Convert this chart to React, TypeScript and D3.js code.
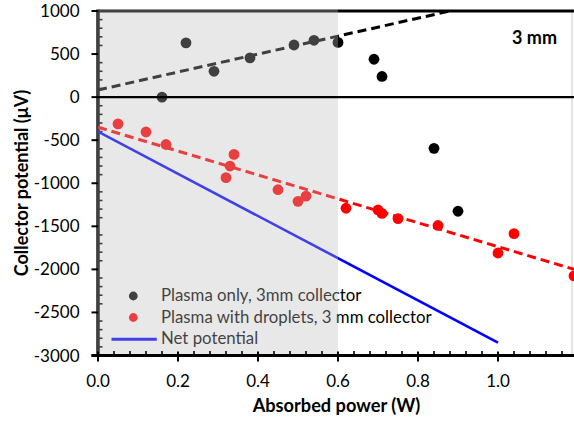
import React from "react";
import * as d3 from "d3";

const plasmaX = [0.16, 0.22, 0.29, 0.38, 0.49, 0.54, 0.6, 0.69, 0.71, 0.84, 0.9];
const plasmaY = [0, 630, 300, 455, 605, 660, 635, 440, 240, -595, -1325];

const dropX = [0.05, 0.12, 0.17, 0.32, 0.33, 0.34, 0.45, 0.5, 0.52, 0.62, 0.7, 0.71, 0.75, 0.85, 1.0, 1.04, 1.19];
const dropY = [-310, -405, -550, -935, -800, -665, -1075, -1210, -1150, -1290, -1310, -1350, -1410, -1490, -1810, -1585, -2075];

const plasmaFitX = [0, 0.88];
const plasmaFitY = [83, 1000];
const dropFitX = [0, 1.19];
const dropFitY = [-349, -2000];
const netX = [0, 1.0];
const netY = [-400, -2850];

const xTicks = [0, 0.2, 0.4, 0.6, 0.8, 1.0];
const yTicks = [1000, 500, 0, -500, -1000, -1500, -2000, -2500, -3000];
const shadeX = [0, 0.6];

const legendLabels = [
  "Plasma only, 3mm collector",
  "Plasma with droplets, 3 mm collector",
  "Net potential",
];

const W = 574;
const H = 421;
const FONT = "Lato, 'Liberation Sans', sans-serif";

export default function App() {
  const x = d3.scaleLinear().domain([0, 1]).range([98, 498]);
  const y = d3.scaleLinear().domain([-3000, 1000]).range([355.5, 11]);
  const x0 = x(0);
  const xEnd = W;
  const yTop = y(1000);
  const yBot = y(-3000);

  const line = d3
    .line<[number, number]>()
    .x((d) => x(d[0]))
    .y((d) => y(d[1]));

  const minorY = d3.range(-3000, 1001, 100).filter((v) => v % 500 !== 0);
  const minorX = d3.range(0, 1.2, 0.04).filter((v) => Math.abs(v * 5 - Math.round(v * 5)) > 1e-6);

  const zip = (a: number[], b: number[]) => a.map((v, i) => [v, b[i]] as [number, number]);

  return (
    <svg
      width={W}
      height={H}
      style={{ position: "absolute", left: 0, top: 0, background: "#fff" }}
      fontFamily={FONT}
    >
      <defs>
        <clipPath id="plot">
          <rect x={x0} y={yTop} width={xEnd - x0} height={yBot - yTop} />
        </clipPath>
      </defs>

      {/* right figure border */}
      <line x1={572} x2={572} y1={yTop} y2={yBot} stroke="#c8c8c8" strokeWidth={1} />

      {/* y axis */}
      <line x1={x0} x2={x0} y1={yTop - 1.5} y2={yBot} stroke="#000" strokeWidth={3.5} />
      {/* top border */}
      <line x1={x0} x2={xEnd} y1={yTop} y2={yTop} stroke="#000" strokeWidth={3} />
      {minorY.map((v) => (
        <line key={"my" + v} x1={x0} x2={x0 + 4.5} y1={y(v)} y2={y(v)} stroke="#000" strokeWidth={1.6} />
      ))}

      {/* fits */}
      <g clipPath="url(#plot)">
        <path
          d={line(zip(dropFitX, dropFitY))!}
          fill="none"
          stroke="#ff0000"
          strokeWidth={3}
          strokeDasharray="9,5"
        />
        <path
          d={line(zip(plasmaFitX, plasmaFitY))!}
          fill="none"
          stroke="#000"
          strokeWidth={3}
          strokeDasharray="9,5"
        />
        <path d={line(zip(netX, netY))!} fill="none" stroke="#0000ff" strokeWidth={2.6} />
        {dropX.map((v, i) => (
          <circle key={"d" + i} cx={x(v)} cy={y(dropY[i])} r={5.4} fill="#ff0000" />
        ))}
        {plasmaX.map((v, i) => (
          <circle key={"p" + i} cx={x(v)} cy={y(plasmaY[i])} r={5.4} fill="#000" />
        ))}
      </g>

      {/* legend */}
      <circle cx={133.3} cy={296} r={4.4} fill="#000" />
      <circle cx={133.3} cy={317.5} r={4.4} fill="#ff0000" />
      <line x1={111.5} x2={156.8} y1={339.3} y2={339.3} stroke="#0000ff" strokeWidth={3} />
      {legendLabels.map((t, i) => (
        <text key={t} x={161} y={301 + i * 21.7} fontSize={16.8} fill="#000">
          {t}
        </text>
      ))}

      {/* shaded overlay */}
      <rect
        x={96.5}
        y={yTop - 2}
        width={x(shadeX[1]) - 96.5}
        height={yBot - yTop + 2}
        fill="rgb(188,188,188)"
        fillOpacity={0.34}
      />

      {/* zero line */}
      <line x1={x0} x2={xEnd} y1={y(0)} y2={y(0)} stroke="#000" strokeWidth={2.2} />

      {/* y major ticks and labels */}
      {yTicks.map((v) => (
        <g key={"y" + v}>
          <line x1={x0 - 6.5} x2={x0} y1={y(v)} y2={y(v)} stroke="#000" strokeWidth={2} />
          <text x={79.5} y={y(v) + 6} fontSize={17} textAnchor="end" fill="#000">
            {v}
          </text>
        </g>
      ))}

      {/* x axis */}
      <line x1={x0 - 6.5} x2={xEnd} y1={yBot} y2={yBot} stroke="#000" strokeWidth={2.8} />
      {minorX.map((v) => (
        <line key={"mx" + v} x1={x(v)} x2={x(v)} y1={yBot - 4.5} y2={yBot} stroke="#000" strokeWidth={1.6} />
      ))}
      {xTicks.map((v) => (
        <g key={"x" + v}>
          <line x1={x(v)} x2={x(v)} y1={yBot - 4} y2={yBot + 6} stroke="#000" strokeWidth={2} />
          <text x={x(v)} y={387} fontSize={17} textAnchor="middle" fill="#000">
            {v.toFixed(1)}
          </text>
        </g>
      ))}

      {/* annotation */}
      <text x={512} y={44.3} fontSize={18} fontWeight="bold" fill="#000">
        3 mm
      </text>

      {/* axis titles */}
      <text x={336.5} y={412} fontSize={18.2} fontWeight="bold" textAnchor="middle" fill="#000">
        Absorbed power (W)
      </text>
      <text
        transform={`translate(28,183) rotate(-90)`}
        fontSize={18}
        fontWeight="bold"
        textAnchor="middle"
        fill="#000"
      >
        Collector potential (μV)
      </text>
    </svg>
  );
}
